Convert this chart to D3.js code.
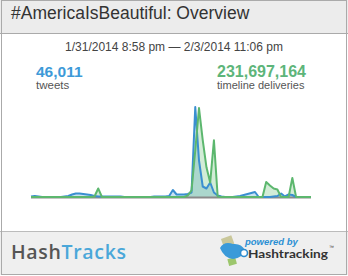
<!DOCTYPE html>
<html>
<head>
<meta charset="utf-8">
<script src="https://cdn.jsdelivr.net/npm/d3@7"></script>
<style>
  body { margin: 0; background: #fff; }
  svg { display: block; font-family: "Liberation Sans", Arial, sans-serif; }
</style>
</head>
<body>
<svg id="card" width="348" height="276"></svg>
<script>
// hourly counts, 1/31/2014 8:58 pm -> 2/3/2014 11:06 pm
const tweets = [100,150,100,50,50,50,50,50,50,100,
  150,300,400,400,350,300,250,150,100,100,
  100,100,100,100,100,50,50,50,50,50,
  50,50,50,100,100,100,100,150,750,300,
  300,300,350,500,9050,3700,1100,900,1500,500,
  200,100,50,50,50,100,150,250,350,450,
  550,50,50,50,50,100,150,400,100,300,
  250,50,50,50,50,50]
// timeline deliveries, thousands
const deliveries = [290,290,290,290,290,290,290,290,290,290,
  290,290,290,290,290,290,290,580,5220,290,
  290,290,290,290,290,290,290,290,290,290,
  290,290,290,290,290,290,290,290,290,290,
  290,290,1160,4060,27260,51620,33060,17400,8700,33060,
  580,290,290,290,290,290,290,290,290,290,
  290,290,290,8990,6960,5220,4640,290,290,290,
  11310,290,290,290,290,290]

const title = '#AmericaIsBeautiful: Overview'
const dateRange = '1/31/2014 8:58 pm \u2014 2/3/2014 11:06 pm'
const totals = {tweets: '46,011', deliveries: '231,697,164'}

const svg = d3.select('#card')
const W = 348, H = 276

// frame, header, footer
svg.append('rect').attr('x', 0).attr('y', 0).attr('width', W).attr('height', 34).attr('fill', '#ececec')
svg.append('rect').attr('x', 0).attr('y', 232).attr('width', W).attr('height', 43).attr('fill', '#efefef')
svg.append('line').attr('x1', 0).attr('x2', W).attr('y1', 33.5).attr('y2', 33.5).attr('stroke', '#aaa')
svg.append('line').attr('x1', 0).attr('x2', W).attr('y1', 231.5).attr('y2', 231.5).attr('stroke', '#bbb')
svg.append('rect').attr('x', 1.5).attr('y', 0.5).attr('width', W - 3).attr('height', 274)
  .attr('fill', 'none').attr('stroke', '#aaa')

svg.append('text').attr('x', 11).attr('y', 18.5).attr('font-size', 17.5).attr('fill', '#333').text(title)
svg.append('text').attr('x', 174).attr('y', 51).attr('text-anchor', 'middle')
  .attr('font-size', 12).attr('fill', '#444').text(dateRange)

svg.append('text').attr('x', 36).attr('y', 77).attr('font-size', 15.5).attr('font-weight', 'bold')
  .attr('fill', '#3d9ad8').text(totals.tweets)
svg.append('text').attr('x', 36).attr('y', 88.5).attr('font-size', 11.5).attr('fill', '#555').text('tweets')
svg.append('text').attr('x', 306).attr('y', 77).attr('text-anchor', 'end').attr('font-size', 16)
  .attr('font-weight', 'bold').attr('fill', '#5db57a').text(totals.deliveries)
svg.append('text').attr('x', 217).attr('y', 88.5).attr('font-size', 11).attr('fill', '#555')
  .text('timeline deliveries')

// chart
const x = d3.scaleLinear().domain([0, tweets.length - 1]).range([31, 311])
const yT = d3.scaleLinear().domain([0, d3.max(tweets)]).range([197.5, 107])
const yD = d3.scaleLinear().domain([0, d3.max(deliveries) * 1.012]).range([197.5, 107])

const series = [
  {vals: tweets, y: yT, stroke: '#3a8fd0', fill: 'rgba(60,150,210,0.28)'},
  {vals: deliveries, y: yD, stroke: '#5cb76e', fill: 'rgba(95,185,110,0.28)'}
]

const chart = svg.append('g')
series.forEach(s => {
  chart.append('path')
    .attr('d', d3.area().x((d, i) => x(i)).y0(197.5).y1(d => s.y(d))(s.vals))
    .attr('fill', s.fill)
})
chart.append('line').attr('x1', x(0)).attr('x2', x(tweets.length - 1))
  .attr('y1', 197.5).attr('y2', 197.5).attr('stroke', '#8a8a8a').attr('stroke-width', 2)
series.forEach(s => {
  chart.append('path')
    .attr('d', d3.line().x((d, i) => x(i)).y(d => s.y(d))(s.vals))
    .attr('fill', 'none').attr('stroke', s.stroke).attr('stroke-width', 2)
    .attr('stroke-linejoin', 'round')
})

// footer logos
const logo = svg.append('text').attr('x', 11).attr('y', 258.5).attr('font-size', 19.5)
  .attr('font-weight', 600)
  .attr('font-family', '"Open Sans", sans-serif').attr('textLength', 115).attr('lengthAdjust', 'spacing')
logo.append('tspan').attr('fill', '#555').text('Hash')
logo.append('tspan').attr('fill', '#4aa7d9').text('Tracks')

// little bird mark
const bird = svg.append('g')
bird.append('rect').attr('x', 222).attr('y', 237).attr('width', 11).attr('height', 9)
  .attr('fill', '#c9c79a').attr('transform', 'rotate(-20 227 241)')
bird.append('rect').attr('x', 228).attr('y', 258).attr('width', 8).attr('height', 7)
  .attr('fill', '#9cc66c').attr('transform', 'rotate(-15 232 261)')
bird.append('path').attr('d', 'M220,248 Q224,241 233,244 Q241,243 245,250 Q243,258 233,259 Q224,258 220,248 Z')
  .attr('fill', '#3a9ad9')
bird.append('circle').attr('cx', 244).attr('cy', 253).attr('r', 3.5).attr('fill', '#fff')
  .attr('stroke', '#2d8ccf').attr('stroke-width', 1.6)

svg.append('text').attr('x', 245).attr('y', 244.5).attr('font-size', 9.5).attr('font-weight', 'bold')
  .attr('font-style', 'italic').attr('fill', '#2b8fd4').text('powered by')
svg.append('text').attr('x', 248).attr('y', 257.5).attr('font-size', 11.5).attr('font-weight', 'bold')
  .attr('font-family', 'Lato, sans-serif').attr('fill', '#333').attr('textLength', 80)
  .attr('lengthAdjust', 'spacingAndGlyphs').text('Hashtracking')
svg.append('text').attr('x', 329).attr('y', 249).attr('font-size', 5).attr('fill', '#333').text('\u2122')
</script>
</body>
</html>
